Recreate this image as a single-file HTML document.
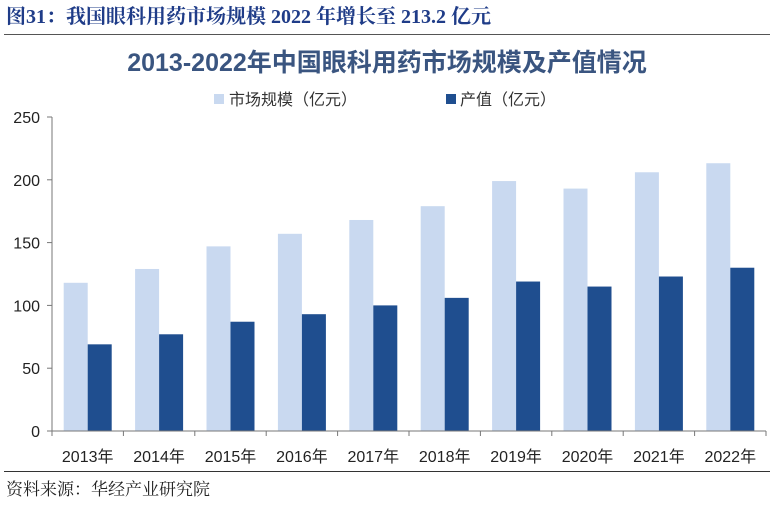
<!DOCTYPE html>
<html><head><meta charset="utf-8"><style>
body{margin:0;width:774px;height:502px;background:#fff;overflow:hidden;font-family:"Liberation Sans","Noto Sans CJK SC",sans-serif}
</style></head><body>
<svg width="774" height="502">
<text x="6" y="23" font-family="'Liberation Serif','Noto Serif CJK SC',serif" font-weight="bold" font-size="20" fill="#1f3c88">图31：我国眼科用药市场规模 2022 年增长至 213.2 亿元</text>
<line x1="4" y1="34.5" x2="770" y2="34.5" stroke="#555" stroke-width="1"/>
<text x="387" y="71" text-anchor="middle" font-size="25" font-weight="bold" fill="#3a5580">2013-2022年中国眼科用药市场规模及产值情况</text>
<g>
<rect x="214" y="94" width="10" height="10" fill="#c9d9f0"/>
<text x="229" y="105" font-size="16" fill="#333">市场规模（亿元）</text>
<rect x="446" y="94" width="10" height="10" fill="#1f4e8f"/>
<text x="460" y="105" font-size="16" fill="#333">产值（亿元）</text>
</g>
<g id="plot"></g>
<line x1="4" y1="471.5" x2="770" y2="471.5" stroke="#333" stroke-width="1"/>
<text x="6" y="495" font-family="'Liberation Serif','Noto Serif CJK SC',serif" font-size="17" fill="#222">资料来源：华经产业研究院</text>
</svg>
<script>
const categories=["2013年","2014年","2015年","2016年","2017年","2018年","2019年","2020年","2021年","2022年"];
const marketSize=[118,129,147,157,168,179,199,193,206,213.2];
const outputValue=[69,77,87,93,100,106,119,115,123,130];
const yTicks=[0,50,100,150,200,250];
const NS="http://www.w3.org/2000/svg";
const g=document.getElementById('plot');
const x0=52,x1=766,y0=431,yTop=117,yMax=250;
const band=(x1-x0)/categories.length;
const y=v=>y0-(v/yMax)*(y0-yTop);
const xc=i=>x0+band*(i+0.5);
function mk(t,a){const e=document.createElementNS(NS,t);for(const k in a)e.setAttribute(k,a[k]);g.appendChild(e);return e;}
yTicks.forEach(v=>{
 const t=mk('text',{x:40,y:y(v)+6,'text-anchor':'end','font-size':16,fill:'#222'});t.textContent=v;
 
 
 const l=mk('line',{x1:x0-5,x2:x0,y1:y(v),y2:y(v),stroke:'#777'});
 
 
});
const bw=24;
categories.forEach((c,i)=>{
 const r1=mk('rect',{x:xc(i)-bw,y:y(marketSize[i]),width:bw,height:y0-y(marketSize[i]),fill:'#c9d9f0'});
 
 
 const r2=mk('rect',{x:xc(i),y:y(outputValue[i]),width:bw,height:y0-y(outputValue[i]),fill:'#1f4e8f'});
 
 
 const t=mk('text',{x:xc(i),y:462,'text-anchor':'middle','font-size':16,fill:'#222'});t.textContent=c;
 
 
});
for(let i=0;i<=categories.length;i++){
 const l=mk('line',{x1:x0+band*i,x2:x0+band*i,y1:y0,y2:y0+5,stroke:'#777'});
 
 
}
const ya=mk('line',{x1:x0,x2:x0,y1:yTop,y2:y0,stroke:'#777'});


const xa=mk('line',{x1:x0,x2:x1,y1:y0,y2:y0,stroke:'#777'});


</script>
</body></html>
